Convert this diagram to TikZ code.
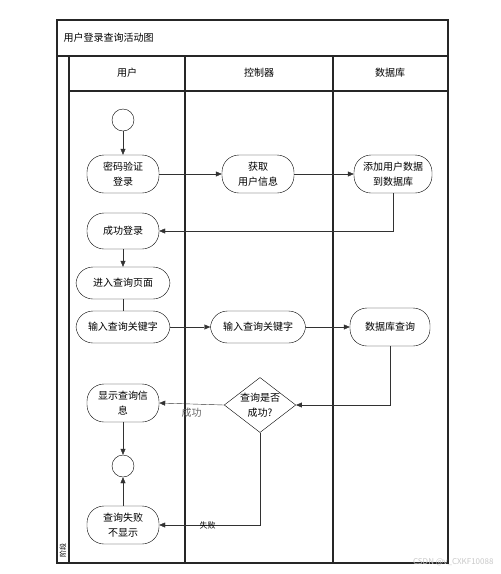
\documentclass[tikz,border=0pt]{standalone}
\usepackage{fontspec}
\setmainfont{Noto Sans CJK SC}
\usetikzlibrary{positioning,shapes.geometric,arrows.meta,calc}
\definecolor{flowgray}{RGB}{50,50,50}
\definecolor{markgray}{RGB}{200,200,200}

\begin{document}
\begin{tikzpicture}[x=1pt, y=-1pt,
    lane/.style={draw=black!85, line width=1.1pt},
    act/.style={draw, thin, rounded corners=17pt, minimum width=72pt, minimum height=38pt, align=center, inner sep=2pt, font=\fontsize{10}{15}\selectfont},
    startend/.style={circle, draw, thin, minimum size=22pt, inner sep=0pt},
    decide/.style={diamond, draw, thin, aspect=1.3, inner sep=0pt, align=center, font=\fontsize{10}{15}\selectfont},
    flow/.style={draw=flowgray, thin, -{Triangle[length=6pt,width=5pt]}},
    tag/.style={font=\fontsize{10}{12}\selectfont}]
        \useasboundingbox (0,0) rectangle (501,574);

        % Swimlanes
        \draw[lane] (57,20) rectangle (448,563);
        \draw[lane] (57,56) -- (448,56);
        \draw[lane] (69,56) -- (69,563);
        \draw[lane] (69,91) -- (448,91);
        \draw[lane] (185,56) -- (185,563);
        \draw[lane] (333,56) -- (333,563);
        \node[tag, anchor=west] (title) at (60,38) {用户登录查询活动图};
        \node[tag] (user) at (127,73) {用户};
        \node[tag] (ctrl) at (259,73) {控制器};
        \node[tag] (db) at (390,73) {数据库};
        \node[rotate=90, font=\fontsize{7}{8}\selectfont, inner sep=0pt] (phase) at (63,550) {阶段};

        % Login
        \node[startend] (start) at (123,120) {};
        \node[act] (login) at (123,174) {密码验证\\登录};
        \node[act] (fetch) at (258,174) {获取\\用户信息};
        \node[act, minimum width=78pt] (adddb) at (393,174) {添加用户数据\\到数据库};
        \node[act, minimum height=36pt] (ok) at (123,231) {成功登录};

        % Query
        \node[act, minimum width=94pt, minimum height=32pt] (page) at (123,283) {进入查询页面};
        \node[act, minimum width=94pt, minimum height=32pt] (keyuser) at (123,327) {输入查询关键字};
        \node[act, minimum width=95pt, minimum height=32pt] (keyctrl) at (258,327) {输入查询关键字};
        \node[act, minimum width=80pt] (query) at (390,327) {数据库查询};
        \node[decide] (check) at (260,405) {查询是否\\成功?};
        \node[act] (show) at (123,403) {显示查询信\\息};
        \node[startend] (stop) at (123,466) {};
        \node[act] (fail) at (123,525) {查询失败\\不显示};

        % Flows
        \draw[flow] (start) -- (login);
        \draw[flow] (login) -- (fetch);
        \draw[flow] (fetch) -- (adddb);
        \draw[flow] (adddb.south) |- (ok.east);
        \draw[flow] (ok) -- (page);
        \draw[draw=flowgray, thin] (page) -- (keyuser);
        \draw[flow] (keyuser) -- (keyctrl);
        \draw[flow] (keyctrl) -- (query);
        \draw[flow] (query.south) |- (check.east);
        \draw[flow] (check.west) -- node[below, tag, text=black!60, yshift=-1pt] {成功} (show.east);
        \draw[flow] (check.south) |- node[pos=0.76, font=\fontsize{8}{9}\selectfont, inner sep=0pt] {失败} (fail.east);
        \draw[flow] (show) -- (stop);
        \draw[flow] (fail) -- (stop);

        \node[anchor=east, text=markgray, font=\fontsize{8}{9}\selectfont] (mark) at (497,562) {CSDN @v\_CXKF10088};
\end{tikzpicture}
\end{document}
